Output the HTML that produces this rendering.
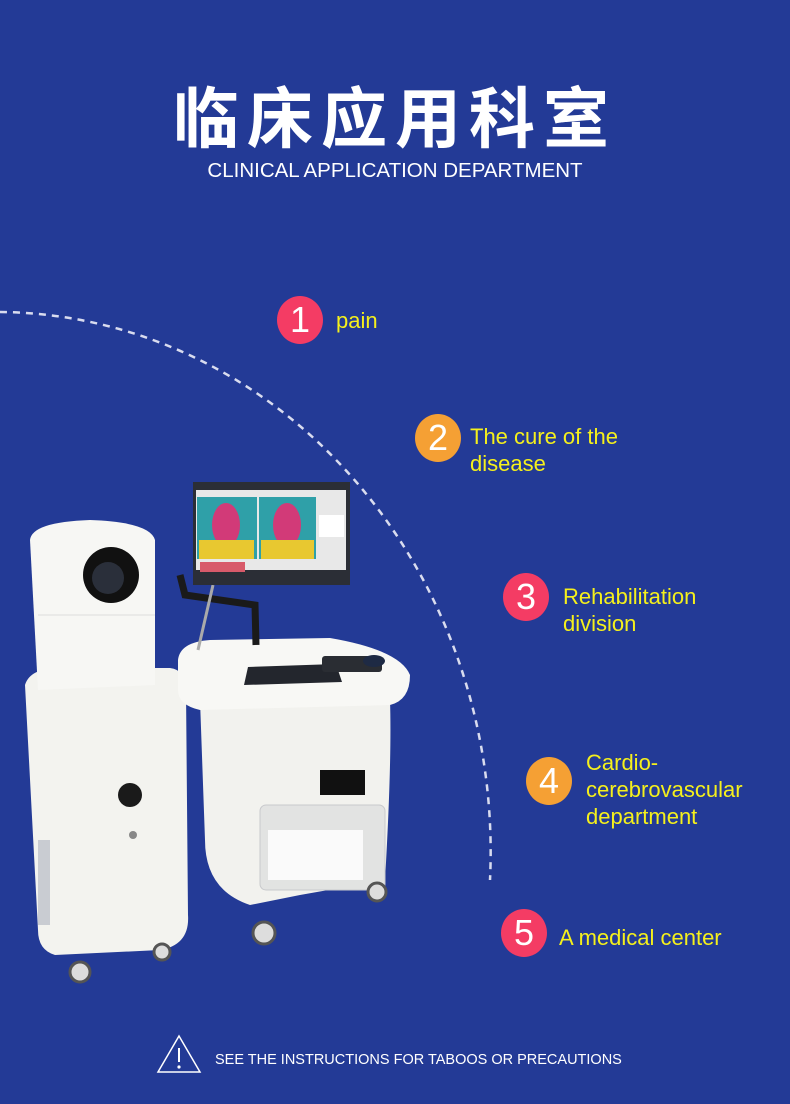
<!DOCTYPE html>
<html><head><meta charset="utf-8"><style>
html,body{margin:0;padding:0}
body{width:790px;height:1104px;background:#233a96;position:relative;overflow:hidden;font-family:"Liberation Sans","Noto Sans CJK SC",sans-serif}
.t{position:absolute;color:#fff}
.c{position:absolute;border-radius:50%;color:#fff;text-align:center;font-size:36px;line-height:48px;width:46px;height:48px}
.l{position:absolute;color:#f5f01c;font-size:22px;line-height:27px}
</style></head><body>
<div class="t" style="left:0;width:790px;top:74px;text-align:center;font-size:66px;font-weight:bold;letter-spacing:8px;line-height:80px;font-family:'Noto Sans CJK SC',sans-serif">临床应用科室</div>
<div class="t" style="left:0;width:790px;top:158px;text-align:center;font-size:20.5px;line-height:26px">CLINICAL APPLICATION DEPARTMENT</div>
<svg style="position:absolute;left:0;top:0" width="790" height="1104">
<path d="M0 312 A495 540 0 0 1 490 880" fill="none" stroke="#d9dcef" stroke-width="2.5" stroke-dasharray="7 6"/>
<!-- left tower -->
<path d="M25 685 Q30 668 60 668 L170 668 Q186 670 186 690 L188 915 Q190 945 160 950 L55 955 Q38 950 38 930 Z" fill="#f3f3ef"/>
<rect x="38" y="840" width="12" height="85" fill="#c9ccd2"/>
<path d="M30 540 Q32 522 90 520 Q150 522 155 540 L155 685 L38 690 Z" fill="#f7f7f4"/>
<line x1="38" y1="615" x2="155" y2="615" stroke="#ddd" stroke-width="1"/>
<circle cx="111" cy="575" r="28" fill="#111"/><circle cx="108" cy="578" r="16" fill="#2a2f3a"/>
<circle cx="130" cy="795" r="12" fill="#1a1a1a"/><circle cx="133" cy="835" r="4" fill="#888"/>
<circle cx="80" cy="972" r="10" fill="#ddd" stroke="#555" stroke-width="3"/><circle cx="162" cy="952" r="8" fill="#ddd" stroke="#555" stroke-width="3"/>
<!-- cart -->
<path d="M200 700 L390 700 Q392 760 385 880 L300 895 L250 905 Q205 890 205 840 Z" fill="#f2f2ee"/>
<rect x="260" y="805" width="125" height="85" rx="6" fill="#e2e3e2" stroke="#c8c9cc"/>
<rect x="268" y="830" width="95" height="50" fill="#fafafa"/>
<rect x="320" y="770" width="45" height="25" fill="#111"/>
<path d="M178 660 Q180 642 210 640 L330 638 Q400 650 410 675 Q410 700 390 705 L200 710 Q178 705 178 690 Z" fill="#f8f8f5"/>
<polygon points="248,667 336,664 342,682 244,685" fill="#23262d"/>
<rect x="322" y="656" width="60" height="16" rx="3" fill="#2a2d33"/>
<ellipse cx="374" cy="661" rx="11" ry="6" fill="#1e2a44"/>
<circle cx="264" cy="933" r="11" fill="#ddd" stroke="#555" stroke-width="3"/><circle cx="377" cy="892" r="9" fill="#ddd" stroke="#555" stroke-width="3"/>
<!-- arm -->
<path d="M180 575 L185 595 L255 605 L256 645" fill="none" stroke="#1a1a1a" stroke-width="7"/>
<path d="M213 585 Q205 620 198 650" fill="none" stroke="#aaa" stroke-width="3"/>
<!-- monitor -->
<rect x="193" y="482" width="157" height="103" fill="#2b2e36"/>
<rect x="196" y="490" width="150" height="80" fill="#e8e8e8"/>
<rect x="197" y="497" width="60" height="62" fill="#2fa0a8"/><rect x="259" y="497" width="57" height="62" fill="#2fa0a8"/>
<ellipse cx="226" cy="525" rx="14" ry="22" fill="#d23a78"/><ellipse cx="287" cy="525" rx="14" ry="22" fill="#d23a78"/>
<rect x="199" y="540" width="55" height="19" fill="#e8c830"/><rect x="261" y="540" width="53" height="19" fill="#e8c830"/>
<rect x="319" y="515" width="25" height="22" fill="#fff"/>
<rect x="200" y="562" width="45" height="10" fill="#d85a6a"/>
</svg>
<div class="c" style="left:277px;top:296px;background:#f43c64">1</div><div class="l" style="left:336px;top:307px">pain</div>
<div class="c" style="left:415px;top:414px;background:#f5a034">2</div><div class="l" style="left:470px;top:423px">The cure of the<br>disease</div>
<div class="c" style="left:503px;top:573px;background:#f43c64">3</div><div class="l" style="left:563px;top:583px">Rehabilitation<br>division</div>
<div class="c" style="left:526px;top:757px;background:#f5a034">4</div><div class="l" style="left:586px;top:749px">Cardio-<br>cerebrovascular<br>department</div>
<div class="c" style="left:501px;top:909px;background:#f43c64">5</div><div class="l" style="left:559px;top:924px">A medical center</div>
<svg style="position:absolute;left:156px;top:1034px" width="46" height="40"><path d="M23 2 L44 38 L2 38 Z" fill="none" stroke="#fff" stroke-width="1.5"/><line x1="23" y1="14" x2="23" y2="28" stroke="#fff" stroke-width="2"/><circle cx="23" cy="33" r="1.6" fill="#fff"/></svg>
<div class="t" style="left:215px;top:1050px;font-size:14.5px;line-height:20px">SEE THE INSTRUCTIONS FOR TABOOS OR PRECAUTIONS</div>
</body></html>
